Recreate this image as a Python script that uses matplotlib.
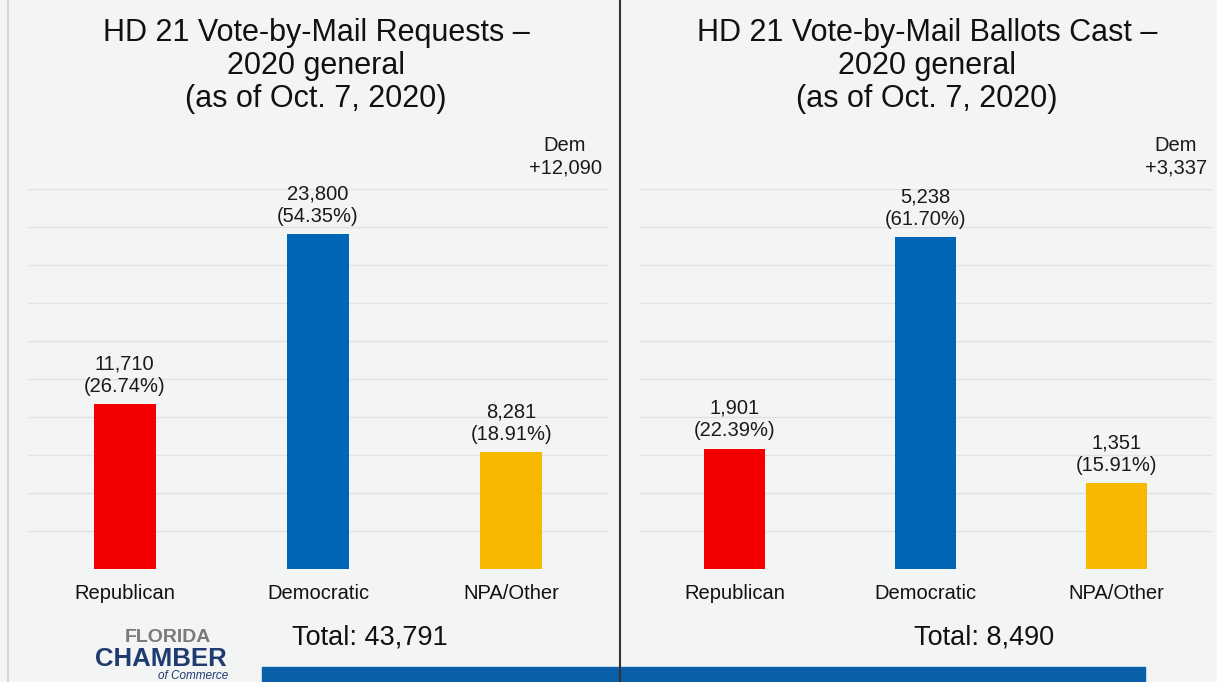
import numpy as np
import matplotlib.pyplot as plt

plt.rcParams['font.family'] = ['Liberation Sans', 'DejaVu Sans']

W, H = 1217, 682

parties = ['Republican', 'Democratic', 'NPA/Other']
colors = ['#f50000', '#0066b5', '#f6b800']

requests = [11710, 23800, 8281]
ballots = [1901, 5238, 1351]

titles = ['HD 21 Vote-by-Mail Requests –\n2020 general\n(as of Oct. 7, 2020)',
          'HD 21 Vote-by-Mail Ballots Cast –\n2020 general\n(as of Oct. 7, 2020)']

bg = '#f3f4f4'


def px(x, y):
    # pixel coords (top-left origin) -> figure fraction
    return x / W, 1 - y / H


def draw_panel(ax, values, ymax):
    total = sum(values)
    x = np.arange(len(values))
    ax.set_facecolor(bg)
    ax.bar(x, values, width=0.32, color=colors, zorder=3)
    ax.set_xlim(-0.5, 2.5)
    ax.set_ylim(0, ymax)
    ax.set_yticks(np.linspace(0, ymax, 11))
    ax.grid(axis='y', color='#e1e2e2', linewidth=1, zorder=0)
    for s in ax.spines.values():
        s.set_visible(False)
    ax.tick_params(axis='y', left=False, labelleft=False)
    ax.tick_params(axis='x', length=0, pad=11, labelsize=14.5, labelcolor='#111111')
    ax.set_xticks(x)
    ax.set_xticklabels(parties)
    for i, v in enumerate(values):
        ax.annotate('{:,}\n({:.2f}%)'.format(v, 100 * v / total), (i, v),
                    xytext=(0, 6), textcoords='offset points',
                    ha='center', va='bottom', fontsize=14.5, linespacing=1.22,
                    color='#1a1a1a')
    return total


fig = plt.figure(figsize=(W / 100, H / 100), dpi=100, facecolor=bg)

# left panel
l, b = px(28, 569)
ax1 = fig.add_axes([l, b, 580 / W, 380 / H])
tot1 = draw_panel(ax1, requests, 27000)

# right panel
l, b = px(639, 569)
ax2 = fig.add_axes([l, b, 573 / W, 380 / H])
tot2 = draw_panel(ax2, ballots, 6000)

# titles
for cx, t in zip([316, 927], titles):
    fig.text(*px(cx, 66), t, ha='center', va='center', fontsize=22,
             linespacing=1.12, color='#111111')

# Dem margin
fig.text(*px(565, 157), 'Dem\n+{:,}'.format(requests[1] - requests[0]),
         ha='center', va='center', fontsize=14.5, linespacing=1.22, color='#1a1a1a')
fig.text(*px(1176, 157), 'Dem\n+{:,}'.format(ballots[1] - ballots[0]),
         ha='center', va='center', fontsize=14.5, linespacing=1.22, color='#1a1a1a')

# totals
fig.text(*px(370, 638), 'Total: {:,}'.format(tot1), ha='center', va='center',
         fontsize=19.5, color='#111111')
fig.text(*px(984, 638), 'Total: {:,}'.format(tot2), ha='center', va='center',
         fontsize=19.5, color='#111111')

# bottom blue band
fig.patches.append(plt.Rectangle(px(262, 682), (1145 - 262) / W, 15 / H,
                                 transform=fig.transFigure, color='#0b5ea8', zorder=1))

# divider and left border
fig.add_artist(plt.Line2D([620 / W, 620 / W], [0, 1], color='#333333', linewidth=1.5,
                          transform=fig.transFigure, zorder=5))
fig.add_artist(plt.Line2D([8 / W, 8 / W], [0, 1], color='#cfcfcf', linewidth=1.2,
                          transform=fig.transFigure, zorder=5))

# logo
fig.text(*px(168, 637), 'FLORIDA', ha='center', va='center', fontsize=14,
         fontweight='heavy', color='#7a7a7a')
fig.text(*px(161, 659), 'CHAMBER', ha='center', va='center', fontsize=18.5,
         fontweight='heavy', color='#1f3b70')
fig.text(*px(228, 676), 'of Commerce', ha='right', va='center', fontsize=8.5,
         style='italic', color='#1f3b70')

fig.savefig('out.png', dpi=100, facecolor=bg)
